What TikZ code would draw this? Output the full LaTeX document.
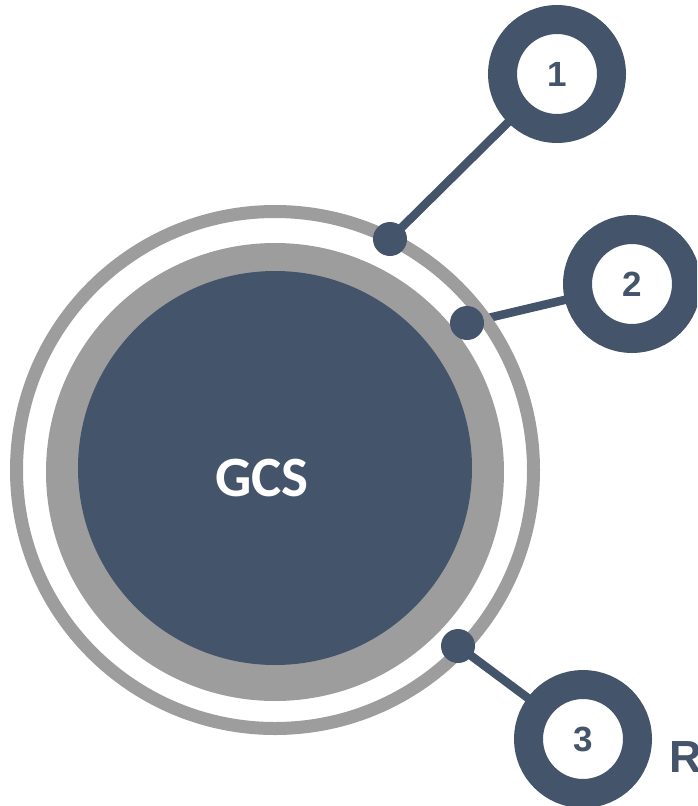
\documentclass[tikz,border=0pt]{standalone}
\usepackage{fontspec}
\newfontfamily\numfont{Liberation Sans}
\newfontfamily\hubfont{Carlito}
\definecolor{slate}{HTML}{44546A}
\definecolor{ringgray}{HTML}{9D9D9D}
\pgfdeclarelayer{bg}
\pgfsetlayers{bg,main}
\tikzset{
  hub/.style={circle, fill=slate, inner sep=0pt, minimum size=394pt},
  hubtext/.style={text=white, font=\hubfont\bfseries\fontsize{57}{60}\selectfont, inner sep=0pt},
  anchordot/.style={circle, fill=slate, inner sep=0pt, minimum size=34pt},
  badge/.style={circle, draw=slate, line width=29pt, fill=white, inner sep=0pt,
    minimum size=109pt, text=slate, font=\numfont\bfseries\fontsize{35}{40}\selectfont},
  link/.style={draw=slate, line width=8.5pt},
  sidetext/.style={text=slate, font=\numfont\bfseries\fontsize{45}{50}\selectfont, inner sep=0pt, anchor=base west}
}
\begin{document}
\begin{tikzpicture}[x=1pt, y=-1pt]
  \useasboundingbox (0,0) rectangle (697,806);
  \clip (0,0) rectangle (697,806);
  % concentric rings around the hub
  \draw[ringgray, line width=13pt] (275,470) circle (258.5pt);
  \fill[ringgray] (275,472) circle (229pt);
  \node[hub] (gcs) at (275,468) {};
  \node[hubtext] (gcslabel) at (262,478) {GCS};
  % anchor dots on the rings
  \node[anchordot] (d1) at (390,239) {};
  \node[anchordot] (d2) at (467,323) {};
  \node[anchordot] (d3) at (458,646) {};
  % numbered badges
  \node[badge] (b1) at (557,74) {1};
  \node[badge] (b2) at (632,284) {2};
  \node[badge] (b3) at (583,739) {3};
  % connectors behind the badges
  \begin{pgfonlayer}{bg}
    \path[link] (d1.center) -- (b1.center);
    \path[link] (d2.center) -- (b2.center);
    \path[link] (d3.center) -- (b3.center);
  \end{pgfonlayer}
  \node[sidetext] (rlabel) at (669,772) {R};
\end{tikzpicture}
\end{document}
